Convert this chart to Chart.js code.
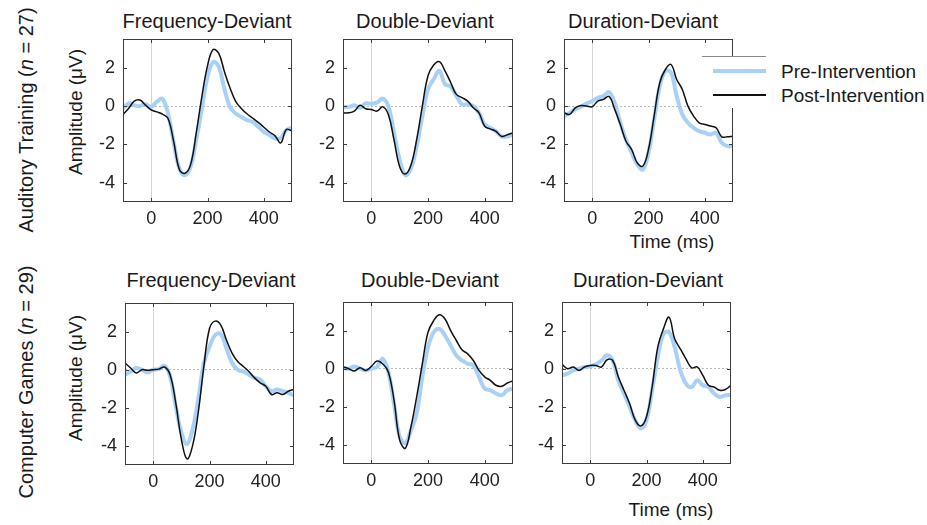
<!DOCTYPE html>
<html>
<head>
<meta charset="utf-8">
<script src="https://cdn.jsdelivr.net/npm/chart.js@4.4.1/dist/chart.umd.min.js"></script>
<style>
  html, body { margin: 0; padding: 0; background: #fff; }
  body { width: 927px; height: 525px; position: relative; overflow: hidden;
         font-family: "Liberation Sans", Arial, sans-serif; color: #1a1a1a; }
  canvas { position: absolute; }
  .lbl { position: absolute; white-space: nowrap; line-height: 1; }
  .title { font-size: 20px; transform: translateX(-50%); }
  .rot { transform: translate(-50%, -50%) rotate(-90deg); }
  .ylab { font-size: 19px; }
  .row { font-size: 20px; }
  .xlab { font-size: 19px; transform: translateX(-50%); }
  #legend { position: absolute; left: 702px; top: 56px; width: 225px; height: 52px;
            background: #fff; z-index: 5; }
  #legend .edge { position: absolute; left: 0; top: 0; width: 64px; height: 1px; background: #8a8a8a; }
  #legend .sw { position: absolute; left: 11px; width: 53px; }
  #legend .txt { position: absolute; left: 79px; font-size: 19px; line-height: 19px; white-space: nowrap; }
</style>
</head>
<body>

<div class="lbl row rot" style="left:26px; top:120px;">Auditory Training (<i>n</i> = 27)</div>
<div class="lbl row rot" style="left:26px; top:382px;">Computer Games (<i>n</i> = 29)</div>
<div class="lbl ylab rot" style="left:75px; top:112px;">Amplitude (μV)</div>
<div class="lbl ylab rot" style="left:75px; top:378px;">Amplitude (μV)</div>
<div class="lbl xlab" style="left:672px; top:232px;">Time (ms)</div>
<div class="lbl xlab" style="left:671px; top:500px;">Time (ms)</div>

<div id="legend">
  <div class="edge"></div>
  <div class="sw" style="top:13px; height:4px; background:#a9d1f7;"></div>
  <div class="txt" style="top:6px;">Pre-Intervention</div>
  <div class="sw" style="top:38px; height:2px; background:#111;"></div>
  <div class="txt" style="top:30px;">Post-Intervention</div>
</div>

<script>
// time axis (ms), sampled every 20 ms
const times = [-100, -80, -60, -40, -20, 0, 20, 40, 60, 80, 100, 120, 140, 160, 180,
               200, 220, 240, 260, 280, 300, 320, 340, 360, 380, 400, 420, 440, 460, 480, 500];
const xTicks = [0, 200, 400];
const yTicks = [-4, -2, 0, 2];
const panelTitles = ['Frequency-Deviant', 'Double-Deviant', 'Duration-Deviant'];
const seriesNames = ['Pre-Intervention', 'Post-Intervention'];

// Auditory Training (n = 27)
const atFreqPre  = [-0.12, 0.14, 0.05, 0, 0.1, -0.03, 0.23, 0.38, -0.4, -1.9, -3.25, -3.6, -3.17, -1.75, -0.15, 1.53, 2.3, 2.05, 0.9, -0.05, -0.38, -0.56, -0.73, -0.82, -1.08, -1.34, -1.51, -1.69, -1.65, -1.25, -1.13];
const atFreqPost = [-0.43, -0.12, 0.26, 0.32, 0.05, -0.2, -0.3, -0.42, -0.65, -1.85, -3.3, -3.5, -3.05, -1.4, 0.5, 2.1, 2.95, 2.75, 1.8, 0.95, 0.25, -0.12, -0.4, -0.62, -0.85, -1.1, -1.35, -1.55, -1.92, -1.22, -1.29];
const atDoubPre  = [-0.04, -0.04, 0.04, -0.09, 0.14, 0.12, 0.18, 0.39, 0, -1.4, -2.8, -3.6, -3.25, -2.1, -0.53, 0.88, 1.4, 1.84, 1.14, 1.02, 0.53, 0.09, 0.09, 0, -0.35, -0.96, -1.14, -1.32, -1.58, -1.58, -1.49];
const atDoubPost = [-0.35, -0.35, -0.26, 0.04, -0.14, -0.18, -0.26, -0.04, -0.44, -1.75, -3.16, -3.54, -3.07, -1.75, 0, 1.58, 2.14, 2.32, 1.84, 1.23, 0.61, 0.44, 0.26, -0.09, -0.35, -1.05, -1.19, -1.32, -1.58, -1.49, -1.4];
const atDurPre   = [-0.52, -0.35, -0.17, -0.03, 0.14, 0.26, 0.43, 0.52, 0.73, 0.17, -0.87, -1.74, -2.43, -3.04, -3.3, -2.43, -0.7, 1.04, 1.83, 1.74, 0.52, -0.43, -0.87, -1.13, -1.3, -1.39, -1.48, -1.39, -1.91, -2.09, -2.09];
const atDurPost  = [-0.35, -0.43, -0.09, 0.03, 0, -0.03, 0.26, 0.35, 0.5, -0.17, -0.96, -1.83, -2.26, -2.96, -3.13, -2.26, -0.52, 1.22, 1.91, 2.17, 1.39, 0.87, 0, -0.52, -0.87, -0.96, -1.04, -1.13, -1.6, -1.6, -1.57];

// Computer Games (n = 29)
const cgFreqPre  = [-0.26, -0.09, 0.09, 0, -0.14, 0, 0.03, 0.21, -0.35, -1.9, -3.29, -3.9, -3.12, -1.56, 0.35, 1.21, 1.82, 1.87, 1.13, 0.35, 0, -0.09, -0.26, -0.43, -0.52, -0.87, -1.13, -1.04, -1.13, -1.21, -1.35];
const cgFreqPost = [0.35, 0.09, -0.17, 0, -0.03, 0, 0.03, 0.14, -0.26, -1.73, -3.64, -4.68, -3.98, -2.25, 0.17, 2.16, 2.55, 2.34, 1.56, 0.87, 0.43, 0.17, -0.09, -0.43, -0.69, -0.87, -1.3, -1.21, -1.3, -1.13, -1.04];
const cgDoubPre  = [0.05, 0, 0.12, 0, -0.09, 0, 0.09, 0.52, -0.17, -1.83, -3.57, -3.91, -3.22, -2.35, -0.43, 1.13, 1.91, 2.09, 1.74, 1.22, 0.7, 0.43, 0.26, 0.17, -0.43, -1.04, -1.13, -1.3, -1.39, -1.13, -1.04];
const cgDoubPost = [0.09, 0, -0.12, 0.05, -0.09, 0.12, 0.4, 0.26, -0.17, -1.65, -3.74, -4.17, -3.04, -1.48, 0.26, 1.91, 2.52, 2.83, 2.61, 2, 1.48, 0.99, 0.78, 0.43, -0.09, -0.43, -0.61, -0.87, -0.92, -0.75, -0.64];
const cgDurPre   = [-0.35, -0.26, -0.09, 0, 0.09, 0.12, 0.23, 0.43, 0.7, 0.43, -0.61, -1.3, -2, -2.7, -3.13, -2.7, -1.13, 0.61, 1.83, 1.91, 1.13, -0.09, -0.78, -0.96, -0.61, -0.87, -0.96, -1.3, -1.48, -1.39, -1.39];
const cgDurPost  = [0.23, 0, 0.09, -0.09, 0.09, 0.17, 0.17, 0.09, 0.47, 0.43, -0.43, -1.13, -1.83, -2.7, -3, -2.52, -0.96, 1.13, 2.09, 2.7, 1.57, 1.04, 0.52, 0.05, 0.09, -0.35, -0.87, -0.96, -1.13, -1.09, -0.87];

const preColor = '#a9d1f7';
const postColor = '#111111';
const tickFont = { family: '"Liberation Sans", Arial, sans-serif', size: 18 };

// plot-area boxes (left, right, top, bottom) in page pixels
const panels = [
  { box: [123, 292, 39, 202], title: 0, tx: 207, ty: 11,  pre: atFreqPre, post: atFreqPost },
  { box: [343, 513, 39, 202], title: 1, tx: 425, ty: 11,  pre: atDoubPre, post: atDoubPost },
  { box: [564, 733, 39, 202], title: 2, tx: 643, ty: 11,  pre: atDurPre,  post: atDurPost },
  { box: [125, 294, 303, 465], title: 0, tx: 211, ty: 270, pre: cgFreqPre, post: cgFreqPost },
  { box: [343, 513, 302, 464], title: 1, tx: 430, ty: 270, pre: cgDoubPre, post: cgDoubPost },
  { box: [562, 731, 302, 464], title: 2, tx: 648, ty: 270, pre: cgDurPre,  post: cgDurPost }
];

const Y_W = 45, X_H = 30, PAD = 4;

// axes frame with inward ticks, like the original figure
const framePlugin = {
  id: 'frame',
  afterDatasetsDraw(chart) {
    const { ctx, chartArea: a, scales: { x, y } } = chart;
    ctx.save();
    ctx.strokeStyle = '#3c3c3c';
    ctx.lineWidth = 1;
    ctx.strokeRect(a.left + 0.5, a.top + 0.5, a.width - 1, a.height - 1);
    ctx.beginPath();
    xTicks.forEach(v => {
      const px = Math.round(x.getPixelForValue(v)) + 0.5;
      ctx.moveTo(px, a.bottom); ctx.lineTo(px, a.bottom - 4);
      ctx.moveTo(px, a.top); ctx.lineTo(px, a.top + 4);
    });
    yTicks.forEach(v => {
      const py = Math.round(y.getPixelForValue(v)) + 0.5;
      ctx.moveTo(a.left, py); ctx.lineTo(a.left + 4, py);
      ctx.moveTo(a.right, py); ctx.lineTo(a.right - 4, py);
    });
    ctx.stroke();
    ctx.restore();
  }
};

// only the zero lines are drawn: dotted at 0 µV, faint solid at 0 ms
const zeroY = c => (c.tick && c.tick.value === 0) ? '#b8b8b8' : 'rgba(0,0,0,0)';
const zeroX = c => (c.tick && c.tick.value === 0) ? '#d4d4d4' : 'rgba(0,0,0,0)';

panels.forEach(p => {
  const [L, R, T, B] = p.box;
  const cv = document.createElement('canvas');
  cv.width = R - L + Y_W + PAD;
  cv.height = B - T + PAD + X_H;
  cv.style.left = (L - Y_W) + 'px';
  cv.style.top = (T - PAD) + 'px';
  document.body.appendChild(cv);

  const t = document.createElement('div');
  t.className = 'lbl title';
  t.style.left = p.tx + 'px';
  t.style.top = p.ty + 'px';
  t.textContent = panelTitles[p.title];
  document.body.appendChild(t);

  new Chart(cv, {
    type: 'line',
    data: {
      labels: times,
      datasets: [
        { label: seriesNames[0], data: p.pre, borderColor: preColor, borderWidth: 4, order: 2 },
        { label: seriesNames[1], data: p.post, borderColor: postColor, borderWidth: 1.5, order: 1 }
      ]
    },
    options: {
      responsive: false,
      animation: false,
      devicePixelRatio: 1,
      events: [],
      layout: { padding: { left: 0, top: PAD, right: PAD, bottom: 0 } },
      elements: {
        point: { radius: 0 },
        line: { tension: 0.4, borderCapStyle: 'round', borderJoinStyle: 'round' }
      },
      plugins: { legend: { display: false }, tooltip: { enabled: false } },
      scales: {
        x: {
          type: 'linear', min: -100, max: 500,
          afterBuildTicks: s => { s.ticks = xTicks.map(v => ({ value: v })); },
          afterFit: s => { s.height = X_H; s.paddingLeft = 0; s.paddingRight = 0; },
          ticks: { font: tickFont, color: '#222', padding: 6, maxRotation: 0, autoSkip: false },
          grid: { drawTicks: false, color: zeroX, lineWidth: 1 },
          border: { display: false }
        },
        y: {
          min: -5, max: 3.5,
          afterBuildTicks: s => { s.ticks = yTicks.map(v => ({ value: v })); },
          afterFit: s => { s.width = Y_W; s.paddingTop = 0; s.paddingBottom = 0; },
          ticks: { font: tickFont, color: '#222', padding: 8 },
          grid: { drawTicks: false, color: zeroY, lineWidth: 1 },
          border: { display: false, dash: [2, 2] }
        }
      }
    },
    plugins: [framePlugin]
  });
});
</script>
</body>
</html>
